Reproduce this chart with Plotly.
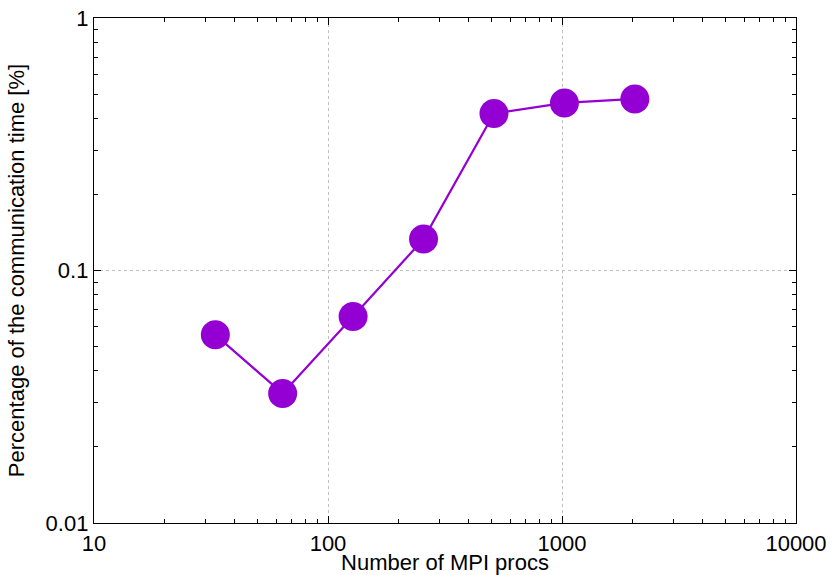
import plotly.graph_objects as go

procs = [33, 64, 128, 256, 512, 1024, 2048]
comm_pct = [0.0556, 0.0326, 0.0657, 0.1332, 0.4185, 0.461, 0.478]

x_ticks = [10, 100, 1000, 10000]
x_tick_text = ["10", "100", "1000", "10000"]
y_ticks = [0.01, 0.1, 1]
y_tick_text = ["0.01", "0.1", "1"]

color = "#9400D3"
font = "Liberation Sans, Arial, Helvetica, sans-serif"

fig = go.Figure()
fig.add_trace(go.Scatter(
    x=procs, y=comm_pct, mode="lines+markers",
    line=dict(color=color, width=2.2),
    marker=dict(color=color, size=29, line=dict(width=0)),
    showlegend=False,
))

axis_common = dict(
    type="log", automargin=False,
    showline=True, linecolor="black", linewidth=1.3, mirror="ticks",
    ticks="inside", ticklen=7, tickcolor="black", tickwidth=1,
    showgrid=True, gridcolor="#c0c0c0", griddash="dot", gridwidth=1,
    zeroline=False,
    tickfont=dict(family=font, size=22, color="black"),
    minor=dict(ticks="inside", ticklen=4, tickcolor="black", tickwidth=1,
               dtick="D1", showgrid=False),
)

fig.update_layout(
    width=833, height=575,
    margin=dict(l=94, r=37, t=18, b=52),
    paper_bgcolor="white", plot_bgcolor="white",
    font=dict(family=font, size=22, color="black"),
    xaxis=dict(axis_common, range=[1, 4], tickvals=x_ticks, ticktext=x_tick_text,
               title=dict(text="Number of MPI procs", standoff=0,
                          font=dict(family=font, size=22))),
    yaxis=dict(axis_common, range=[-2, 0], tickvals=y_ticks, ticktext=y_tick_text,
               title=dict(text="Percentage of the communication time [%]", standoff=14,
                          font=dict(family=font, size=22))),
)

fig.write_html("out.html")
